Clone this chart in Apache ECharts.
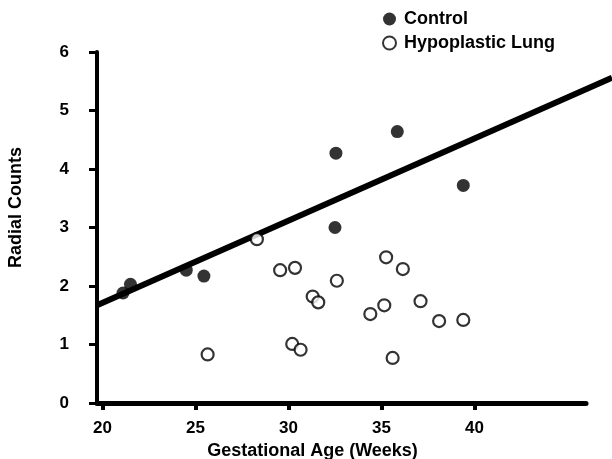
<!DOCTYPE html>
<html>
<head>
<meta charset="utf-8">
<script src="https://cdn.jsdelivr.net/npm/echarts@6/dist/echarts.min.js"></script>
<style>
  html, body { margin: 0; padding: 0; background: #fff; }
  #chart { width: 612px; height: 459px; }
</style>
</head>
<body>
<div id="chart"></div>
<script>
// values
const xTicks = [20, 25, 30, 35, 40];
const controlPts = [
  [21.1, 1.88], [21.5, 2.03], [24.5, 2.27], [25.45, 2.17],
  [32.55, 4.27], [32.5, 3.0], [35.85, 4.64], [39.4, 3.72]
];
const hypoPts = [
  [25.65, 0.83], [28.3, 2.8], [29.55, 2.27], [30.35, 2.31], [30.2, 1.01],
  [30.65, 0.91], [31.3, 1.82], [31.6, 1.72], [32.6, 2.09], [34.4, 1.52],
  [35.15, 1.67], [35.25, 2.49], [35.6, 0.77], [36.15, 2.29], [37.1, 1.74],
  [38.1, 1.4], [39.4, 1.42]
];
const fitLine = [[19.7, 1.67], [47.4, 5.56]];

const font = 'Liberation Sans';
const txt = { fontFamily: font, fontWeight: 'bold', fontSize: 17, color: '#000' };
const chart = echarts.init(document.getElementById('chart'));

chart.setOption({
  animation: false,
  // grid 0: the visible axes; grid 1: same scale, runs to the right edge for the fit line
  grid: [
    { left: 97, right: 26, top: 52, bottom: 56, outerBoundsMode: 'none' },
    { left: 97, right: 0, top: 52, bottom: 56, outerBoundsMode: 'none' }
  ],
  legend: {
    orient: 'vertical',
    left: 377,
    top: 5,
    itemWidth: 13,
    itemHeight: 13,
    itemGap: 6,
    data: ['Control', 'Hypoplastic Lung'],
    textStyle: Object.assign({ padding: [0, 0, 0, 3] }, txt, { fontSize: 18 })
  },
  xAxis: [
    {
      type: 'value',
      min: 19.7,
      max: 46,
      name: 'Gestational Age (Weeks)',
      nameLocation: 'middle',
      nameGap: 38,
      nameTextStyle: Object.assign({ padding: [0, 58, 0, 0] }, txt, { fontSize: 18 }),
      splitLine: { show: false },
      axisLine: { lineStyle: { color: '#000', width: 5 } },
      axisTick: { customValues: xTicks, length: 7, lineStyle: { color: '#000', width: 4 } },
      axisLabel: Object.assign({ customValues: xTicks, margin: 17 }, txt)
    },
    { type: 'value', gridIndex: 1, min: 19.7, max: 47.4, show: false }
  ],
  yAxis: [
    {
      type: 'value',
      min: 0,
      max: 6,
      interval: 1,
      name: 'Radial Counts',
      nameLocation: 'middle',
      nameGap: 72,
      nameTextStyle: Object.assign({ padding: [0, 0, 0, 40] }, txt, { fontSize: 18 }),
      splitLine: { show: false },
      axisLine: { show: true, lineStyle: { color: '#000', width: 4 } },
      axisTick: { show: true, length: 8, lineStyle: { color: '#000', width: 3 } },
      axisLabel: Object.assign({ margin: 28 }, txt)
    },
    { type: 'value', gridIndex: 1, min: 0, max: 6, show: false }
  ],
  series: [
    {
      name: 'fit',
      type: 'line',
      xAxisIndex: 1,
      yAxisIndex: 1,
      data: fitLine,
      symbol: 'none',
      lineStyle: { color: '#000', width: 6 },
      z: 1
    },
    {
      name: 'Control',
      type: 'scatter',
      data: controlPts,
      symbol: 'circle',
      symbolSize: 13,
      itemStyle: { color: '#000' },
      z: 3
    },
    {
      name: 'Hypoplastic Lung',
      type: 'scatter',
      data: hypoPts,
      symbol: 'circle',
      symbolSize: 12,
      itemStyle: { color: '#fff', borderColor: '#000', borderWidth: 2.2 },
      z: 3
    }
  ]
});
</script>
</body>
</html>
